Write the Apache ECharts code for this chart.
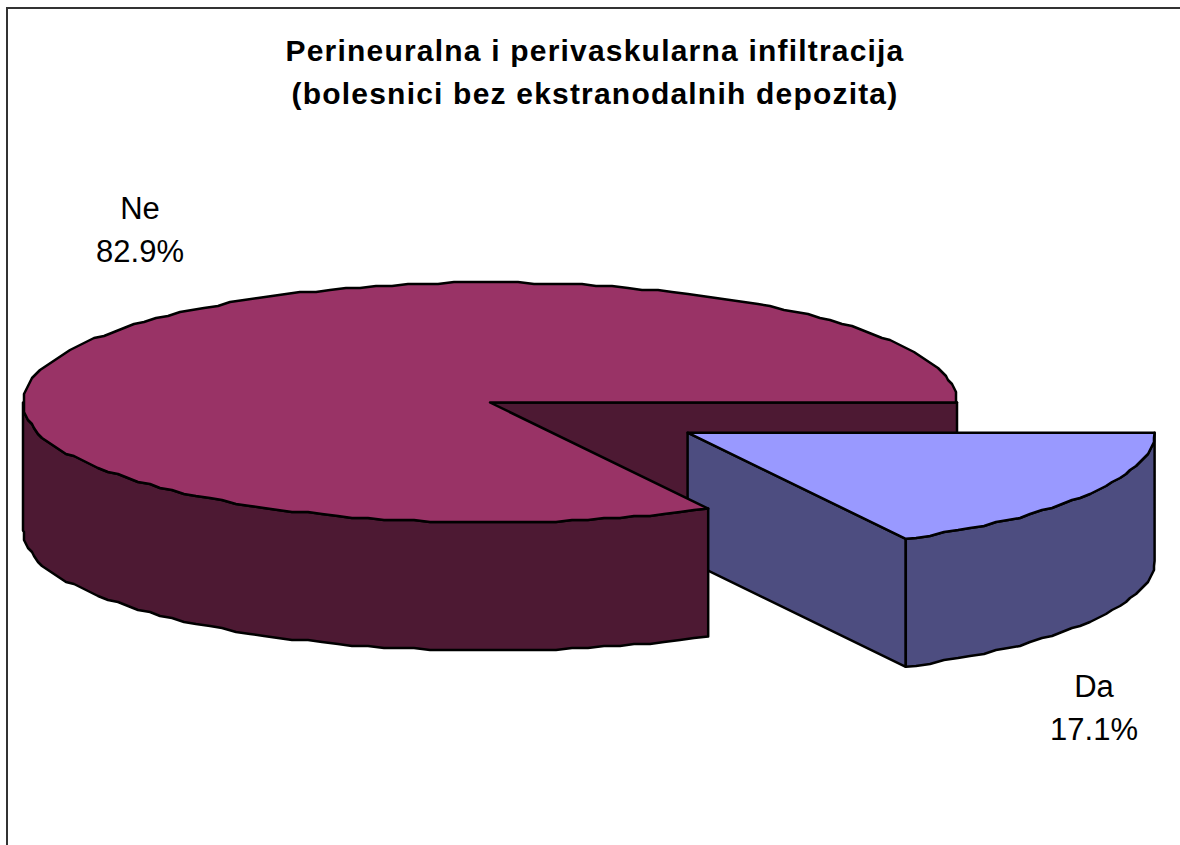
<!DOCTYPE html>
<html>
<head>
<meta charset="utf-8">
<title>Perineuralna i perivaskularna infiltracija</title>
<script src="https://cdn.jsdelivr.net/npm/echarts@6/dist/echarts.min.js"></script>
<style>
  html, body { margin: 0; padding: 0; background: #fff; overflow: hidden; }
  #chart { width: 1180px; height: 845px; }
  /* the title in the reference is set wide */
  #chart text[style*="bold"] { letter-spacing: 1.2px; }
</style>
</head>
<body>
<div id="chart"></div>
<script>
// values, slices run clockwise from 3 o'clock
const categories = ["Da", "Ne"];
const shares = [17.1, 82.9];
const titleLines = [
  "Perineuralna i perivaskularna infiltracija",
  "(bolesnici bez ekstranodalnih depozita)",
];

// look of the tilted pie
const topColors = ["#9999ff", "#993366"];
const sideColors = ["#4d4d80", "#4d1933"];
const explode = [0.4925, 0];
const labelPos = [[1094, 708], [140, 230]];
const pie = { cx: 490, cy: 402.5, rx: 467, ry: 120, depth: 128 };
const LEAN = 0.7; // slice ends sit a bit further round than the plain angle
const STEP = 2; // degrees between outline points
const GRID = 2; // the outline is snapped to this, gives the rough edge

const snap = (v) => Math.round(v / GRID) * GRID;
const total = shares.reduce((a, b) => a + b, 0);

function pointAt(c, deg) {
  const a = ((deg + LEAN * Math.sin((2 * deg * Math.PI) / 180)) * Math.PI) / 180;
  return [c.x + pie.rx * Math.cos(a), c.y + pie.ry * Math.sin(a)];
}

function arc(c, from, to) {
  const pts = [pointAt(c, from)];
  for (let d = from + STEP; d < to; d += STEP) {
    const p = pointAt(c, d);
    pts.push([snap(p[0]), snap(p[1])]);
  }
  pts.push(pointAt(c, to));
  return pts;
}

const down = (pts) => pts.map((p) => [p[0], p[1] + pie.depth]);

function poly(points, fill, z2) {
  return {
    type: "polygon",
    z2: z2,
    shape: { points: points },
    style: { fill: fill, stroke: "#000", lineWidth: 2.5, lineJoin: "round" },
  };
}

function renderSlice(params, api) {
  const i = params.dataIndex;
  const share = api.value(1);
  const before = shares.slice(0, i).reduce((a, b) => a + b, 0);
  const from = (before / total) * 360;
  const to = ((before + share) / total) * 360;
  const mid = (((from + to) / 2) * Math.PI) / 180;
  const c = {
    x: pie.cx + explode[i] * pie.rx * Math.cos(mid),
    y: pie.cy + explode[i] * pie.ry * Math.sin(mid),
  };
  const rim = arc(c, from, Math.min(to, 180));
  const top = [[c.x, c.y]].concat(arc(c, from, to));
  const base = i === 0 ? 10 : 20;
  const e = pointAt(c, to);
  const cutFace = [[c.x, c.y], e, [e[0], e[1] + pie.depth], [c.x, c.y + pie.depth]];

  return {
    type: "group",
    children: [
      // the cut face of Ne goes behind the pulled out slice
      poly(cutFace, sideColors[i], i === 0 ? base : 1),
      poly(rim.concat(down(rim).reverse()), sideColors[i], base + 1),
      poly(top, topColors[i], base + 2),
      {
        type: "text",
        z2: 40,
        style: {
          x: labelPos[i][0],
          y: labelPos[i][1],
          text: categories[i] + "\n" + share.toFixed(1) + "%",
          fill: "#000",
          font: "31px 'Liberation Sans', Arial, sans-serif",
          lineHeight: 43,
          align: "center",
          verticalAlign: "middle",
        },
      },
    ],
  };
}

const chart = echarts.init(document.getElementById("chart"), null, { renderer: "svg" });
chart.setOption({
  animation: false,
  backgroundColor: "#fff",
  title: {
    text: titleLines.join("\n"),
    left: 590,
    top: 24,
    textAlign: "center",
    textStyle: {
      fontFamily: "'Liberation Sans', Arial, sans-serif",
      fontWeight: "bold",
      fontSize: 30,
      lineHeight: 43,
      color: "#000",
    },
  },
  graphic: [
    {
      type: "rect",
      silent: true,
      shape: { x: 7, y: 8, width: 1300, height: 900 },
      style: { fill: null, stroke: "#333", lineWidth: 2 },
    },
  ],
  series: [
    {
      type: "custom",
      coordinateSystem: "none",
      renderItem: renderSlice,
      data: categories.map((c, i) => ({ name: c, value: [i, shares[i]] })),
    },
  ],
});
</script>
</body>
</html>
